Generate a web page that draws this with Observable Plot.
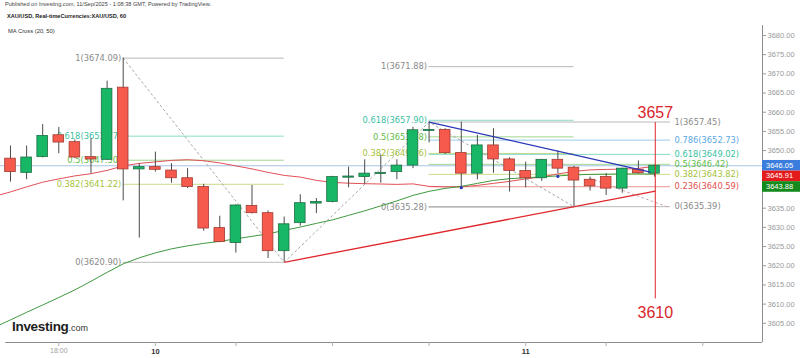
<!DOCTYPE html>
<html><head><meta charset="utf-8">
<script src="https://cdn.jsdelivr.net/npm/d3@7"></script>
<script src="https://cdn.jsdelivr.net/npm/@observablehq/plot@0.6"></script>
<style>
body{margin:0;background:#fff;}
#wrap{position:relative;width:800px;height:358px;overflow:hidden;background:#fff;}
.hdr{position:absolute;font-family:"Liberation Sans",Arial,sans-serif;color:#333;white-space:nowrap;line-height:1;}
</style></head><body>
<div id="wrap">
  <div class="hdr" style="left:5px;top:2px;font-size:5.6px;color:#444;">Published on Investing.com, 11/Sep/2025 - 1:08:38 GMT, Powered by TradingView.</div>
  <div class="hdr" style="left:7px;top:14px;font-size:5.6px;font-weight:bold;color:#222;">XAU/USD, Real-timeCurrencies:XAU/USD, 60</div>
  <div class="hdr" style="left:8px;top:29px;font-size:5.8px;color:#333;">MA Cross (20, 50)</div>
  <div class="hdr" style="left:12px;top:320px;font-size:13.5px;font-weight:bold;color:#1e1e1e;letter-spacing:-0.3px;">Investing<span style="font-size:9px;font-weight:normal;color:#333;letter-spacing:0;">.com</span></div>
</div>
<script>
// ---- candles (hourly, index = bar number) ----
const candleIndex = d3.range(41);
const opens  = [3647.9,3644.2,3648.3,3654.0,3652.2,3648.3,3647.6,3666.4,3645.1,3645.7,3644.8,3642.8,3640.5,3629.8,3625.9,3635.6,3633.7,3623.8,3631.1,3636.2,3636.6,3642.95,3643.1,3643.9,3644.4,3646.1,3655.1,3655.4,3649.35,3644.0,3651.35,3647.7,3644.7,3642.8,3647.6,3645.55,3642.4,3643.1,3640.1,3645.0,3644.0];
const highs  = [3651.2,3651.2,3656.8,3656.0,3652.8,3653.1,3668.1,3674.09,3646.6,3649.6,3646.6,3645.3,3641.2,3632.9,3635.9,3640.9,3634.3,3632.7,3638.5,3637.5,3643.3,3645.7,3647.6,3648.8,3647.6,3656.1,3657.45,3655.7,3657.4,3654.0,3655.7,3648.15,3647.0,3647.7,3649.9,3645.9,3643.1,3644.0,3645.4,3647.3,3646.2];
const lows   = [3641.8,3642.4,3648.1,3649.2,3647.9,3644.0,3647.4,3636.9,3627.2,3644.4,3641.5,3640.1,3629.0,3626.0,3623.3,3633.5,3621.9,3620.90,3630.3,3633.6,3636.4,3640.3,3641.2,3641.5,3642.4,3645.3,3652.0,3649.0,3640.3,3642.4,3644.1,3639.2,3640.3,3642.0,3644.0,3635.39,3639.45,3638.3,3638.9,3643.9,3643.1];
const closes = [3644.4,3648.2,3653.8,3652.1,3648.2,3647.7,3666.1,3645.1,3645.7,3645.0,3642.8,3640.5,3629.7,3626.2,3635.7,3633.7,3623.8,3630.8,3636.3,3636.6,3643.1,3643.25,3644.0,3644.2,3646.1,3655.3,3655.4,3649.35,3644.0,3651.35,3647.7,3644.7,3642.8,3647.6,3645.3,3642.2,3640.7,3640.1,3645.3,3644.1,3646.05];

// ---- moving averages (from bar -1 to bar 40) ----
const maIndex = d3.range(-1, 41);
const ma20 = [3638.07,3639.24,3640.55,3641.77,3642.63,3643.41,3643.98,3644.84,3646.02,3646.67,3647.06,3647.45,3647.63,3647.37,3646.80,3646.02,3645.23,3644.32,3643.54,3643.10,3642.24,3641.72,3641.51,3641.38,3641.30,3641.20,3641.33,3640.68,3640.55,3640.55,3640.94,3641.46,3641.98,3642.63,3643.15,3643.93,3644.58,3644.97,3645.10,3645.18,3645.36,3645.91];
const ma50 = [3603.96,3605.89,3607.86,3609.77,3611.72,3613.72,3615.94,3618.28,3620.49,3622.06,3623.36,3624.40,3625.18,3625.83,3626.35,3627.01,3627.66,3628.31,3629.22,3630.08,3631.04,3631.95,3633.13,3634.30,3635.60,3636.90,3638.33,3639.38,3640.16,3640.68,3641.46,3642.24,3642.68,3642.94,3643.15,3643.41,3643.67,3643.80,3643.85,3643.91,3643.93,3643.88];
const crossIndex = [28, 34];
const crossValues = [3640.34, 3643.28];

// ---- fibonacci retracements ----
const leftFibLevels  = ["1","0.618","0.5","0.382","0"];
const leftFibValues  = [3674.09,3653.77,3647.50,3641.22,3620.90];
const leftFibSpan    = [7, 17];
const midFibLevels   = ["1","0.618","0.5","0.382","0"];
const midFibValues   = [3671.88,3657.90,3653.58,3649.26,3635.28];
const midFibSpan     = [26, 35];
const rightFibLevels = ["1","0.786","0.618","0.5","0.382","0.236","0"];
const rightFibValues = [3657.45,3652.73,3649.02,3646.42,3643.82,3640.59,3635.39];
const rightFibSpan   = [26, 41];
const fibColors = {"1":"#8a8a8a","0.786":"#5aa8e2","0.618":"#3bbfa2","0.5":"#63bd47","0.382":"#a6c33c","0.236":"#df4f4f","0":"#8a8a8a"};

// swing pivots (dotted connector)
const pivotIndex  = [7, 17, 26, 35];
const pivotValues = [3674.09, 3620.90, 3657.45, 3635.39];
const extraDotIndex = [36.0, 40.9];
const extraDotValues = [3642.76, 3635.2];

// triangle lines + target
const trendNames = ["upper", "lower", "target"];
const trendX1 = [26, 17, 40.05];
const trendY1 = [3657.45, 3620.90, 3657.45];
const trendX2 = [39.75, 40.06, 40.05];
const trendY2 = [3644.4, 3639.45, 3611.5];
const trendColors = ["#2b36b8", "#e0262b", "#e0262b"];
const targetTop = 3657;
const targetBottom = 3610;

// price scale & current values
const yTicks = [3605, 3610, 3615, 3620, 3625, 3630, 3635, 3650, 3655, 3660, 3665, 3670, 3675, 3680];
const lastPrice = 3646.05;
const priceBoxValues = [3646.05, 3645.91, 3643.88];
const priceBoxColors = ["#3b7ddd", "#e31b1b", "#138a1b"];

// time axis
const timeTickIndex = [3, 9, 14, 20, 26, 32, 37, 43];
const timeTickLabels = ["18:00", "", "", "", "", "", "", ""];
const dateTickIndex = [9, 32];
const dateTickLabels = ["10", "11"];

// ---- build tables ----
const candles = candleIndex.map(i => ({i, o: opens[i], h: highs[i], l: lows[i], c: closes[i], up: closes[i] >= opens[i]}));
const maRows = maIndex.map((i, k) => ({i, a: ma20[k], b: ma50[k]}));
function fibRows(levels, values, span) {
  return levels.map((lv, k) => ({level: lv, v: values[k], x1: span[0], x2: span[1], label: `${lv}(${values[k].toFixed(2)})`}));
}
const leftFib = fibRows(leftFibLevels, leftFibValues, leftFibSpan);
const midFib = fibRows(midFibLevels, midFibValues, midFibSpan);
const rightFib = fibRows(rightFibLevels, rightFibValues, rightFibSpan);
const allFib = [...leftFib, ...midFib, ...rightFib];
const pivots = pivotIndex.map((i, k) => ({i, v: pivotValues[k]}));
const extraDots = extraDotIndex.map((i, k) => ({i, v: extraDotValues[k]}));
const trends = trendNames.map((n, k) => ({n, x1: trendX1[k], y1: trendY1[k], x2: trendX2[k], y2: trendY2[k], c: trendColors[k]}));
const crosses = crossIndex.map((i, k) => ({i, v: crossValues[k]}));

const xDomain = [-0.621, 46.71];
const yDomain = [3600, 3682.6];
const fibFont = "DejaVu Sans, Verdana, sans-serif";

const plot = Plot.plot({
  width: 800, height: 358,
  marginTop: 25, marginBottom: 16, marginLeft: 0, marginRight: 38,
  x: {domain: xDomain, axis: null},
  y: {domain: yDomain, axis: null},
  style: {fontFamily: "Liberation Sans, Arial, sans-serif", fontSize: "7.5px", background: "transparent", overflow: "visible"},
  marks: [
    Plot.ruleY([lastPrice], {stroke: "#a8c4e6", strokeWidth: 1}),
    Plot.ruleY(allFib, {y: "v", x1: "x1", x2: "x2", stroke: d => fibColors[d.level], strokeOpacity: 0.6, strokeWidth: 1}),
    Plot.text([...leftFib, ...midFib], {x: "x1", y: "v", text: "label", textAnchor: "end", dx: -2, fill: d => fibColors[d.level], fontFamily: fibFont, fontSize: 8.3}),
    Plot.text(rightFib, {x: "x2", y: "v", text: "label", textAnchor: "start", dx: 4, fill: d => fibColors[d.level], fontFamily: fibFont, fontSize: 8.3}),
    Plot.line(pivots, {x: "i", y: "v", stroke: "#a8a8a8", strokeDasharray: "2,3", strokeWidth: 1}),
    Plot.line(extraDots, {x: "i", y: "v", stroke: "#c8a8b0", strokeDasharray: "2,3", strokeWidth: 1}),
    Plot.line(maRows, {x: "i", y: "a", stroke: "#e35058", strokeWidth: 1, clip: true}),
    Plot.line(maRows, {x: "i", y: "b", stroke: "#3f9a3f", strokeWidth: 1, clip: true}),
    Plot.ruleX(candles, {x: "i", y1: "l", y2: "h", stroke: "#4a4a4a", strokeWidth: 1}),
    Plot.rect(candles, {x1: d => d.i - 0.33, x2: d => d.i + 0.33, y1: "o", y2: "c",
      fill: d => d.up ? "#17b765" : "#f65a4c", stroke: d => d.up ? "#1f6e45" : "#a23a31", strokeWidth: 0.8}),
    Plot.link(trends, {x1: "x1", y1: "y1", x2: "x2", y2: "y2", stroke: "c", strokeWidth: d => d.n === "target" ? 1 : 1.3}),
    Plot.dot(crosses, {x: "i", y: "v", r: 1.6, fill: "#2b36b8"}),
    Plot.text([targetTop], {x: trendX1[2], y: trendY1[2], text: d => String(d), dy: -9, fill: "#d8262c", fontSize: 16, fontFamily: "Liberation Sans, Arial, sans-serif"}),
    Plot.text([targetBottom], {x: trendX1[2], y: targetBottom, text: d => String(d), dy: 9, fill: "#d8262c", fontSize: 16, fontFamily: "Liberation Sans, Arial, sans-serif"}),
    Plot.ruleX([xDomain[1]], {y1: yDomain[0], y2: yDomain[1], stroke: "#8c8c8c"}),
    Plot.ruleY([yDomain[0]], {x1: -0.3, x2: xDomain[1], stroke: "#8c8c8c"}),
    Plot.axisY({anchor: "right", ticks: yTicks, tickFormat: d3.format(".2f"), tickSize: 3, tickPadding: 2, fill: "#9a9a9a", stroke: "#9a9a9a", fontSize: 7.5}),
    Plot.axisX({anchor: "bottom", ticks: timeTickIndex, tickFormat: d => timeTickLabels[timeTickIndex.indexOf(d)], tickSize: 4, tickPadding: 2, fill: "#a0a0a0", stroke: "#b0b0b0", fontSize: 7}),
    Plot.axisX({anchor: "bottom", ticks: dateTickIndex, tickFormat: d => dateTickLabels[dateTickIndex.indexOf(d)], tickSize: 0, tickPadding: 6, fill: "#333", fontWeight: "bold", fontSize: 7.5})
  ]
});
plot.style.position = "absolute";
plot.style.left = "0px";
plot.style.top = "0px";
const wrap = document.getElementById("wrap");
wrap.insertBefore(plot, wrap.firstChild);

// price boxes on the right axis, stacked from their scaled positions
const ys = plot.scale("y"), xs = plot.scale("x");
const x0 = xs.apply(xDomain[1]);
const boxH = 10.6;
let prevY = -Infinity;
const svg = d3.select(plot);
priceBoxValues.forEach((v, k) => {
  const cy = Math.max(ys.apply(v), prevY + boxH);
  prevY = cy;
  svg.append("rect").attr("x", x0).attr("y", cy - boxH / 2).attr("width", 800 - x0).attr("height", boxH).attr("fill", priceBoxColors[k]);
  svg.append("text").attr("x", x0 + 4).attr("y", cy).attr("dy", "0.35em").attr("fill", "#fff")
    .attr("text-anchor", "start")
    .attr("font-family", "Liberation Sans, Arial, sans-serif").attr("font-size", 7.5).text(v.toFixed(2));
});
</script>
</body></html>
